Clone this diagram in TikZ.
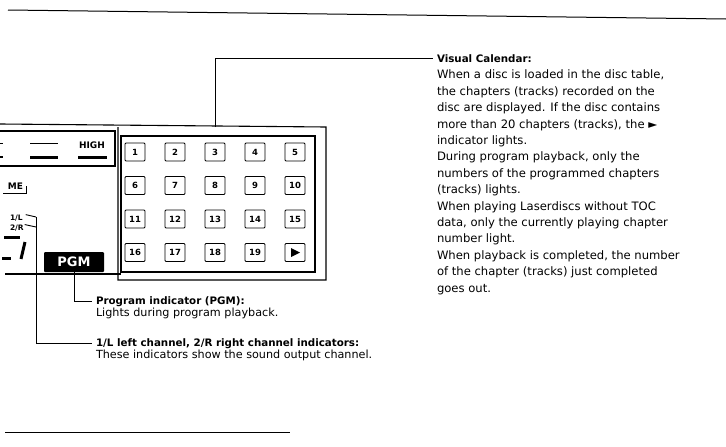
\documentclass[tikz,border=0pt]{standalone}
\usepackage{fontspec}
\setmainfont{DejaVu Sans}
\begin{document}
\begin{tikzpicture}[x=1pt,y=-1pt,
  every node/.style={inner sep=0pt, outer sep=0pt},
  frame/.style={line width=1.1pt},
  lead/.style={line width=0.9pt},
  cell/.style={draw, line width=0.9pt, minimum width=20pt, minimum height=18pt, rounded corners=1pt, font=\fontsize{8.5}{8.5}\selectfont\bfseries},
  title/.style={anchor=base west, font=\bfseries\fontsize{10.3}{14}\selectfont},
  desc/.style={anchor=north west, align=left, font=\fontsize{11.6}{16.4}\selectfont},
  small/.style={font=\bfseries\fontsize{9}{9}\selectfont},
  tiny/.style={font=\bfseries\fontsize{7.5}{7.5}\selectfont},
]
\useasboundingbox (0,0) rectangle (726,447);
% page rules
\draw[line width=1pt] (8,10) -- (726,19);
\draw[line width=1pt] (5,432) -- (290,432);
% panel frame
\draw[frame] (0,124) -- (326,127) -- (326,280) -- (118,280) -- (118,127);
\draw[frame] (121,136) rectangle (315,272);
\draw[frame] (5,274) -- (121,274);
\draw[frame] (0,131) -- (115,131) -- (115,166) -- (0,166);
% left box content
\node[small, anchor=base west] (high) at (79,148) {HIGH};
\draw[line width=1pt] (30,143) -- (58,143);
\draw[line width=3pt] (30,157) -- (58,157);
\draw[line width=3pt] (78,157) -- (107,157);
\draw[line width=1pt] (0,143) -- (3,143);
\draw[line width=2.5pt] (0,157) -- (3,157);
\node[small, anchor=base east] (me) at (23,189) {ME};
\draw[line width=0.9pt] (3,193) -- (26,193) -- (26,186);
\node[tiny, anchor=base west] (l1) at (10,220) {1/L};
\node[tiny, anchor=base west] (r2) at (10,230) {2/R};
\coordinate (lr) at (36,217);
\draw[lead] (l1.east) ++(3,-3) -- (lr);
\draw[lead] (r2.east) ++(1,-3) -- (36,227);
% segment digit fragment
\draw[line width=3pt] (4,237) -- (20,237);
\draw[line width=3pt] (25,242) -- (21,259);
\draw[line width=3pt] (2,258) -- (11,258);
% PGM
\node[fill=black, text=white, minimum width=60pt, minimum height=20pt, rounded corners=1pt, font=\bfseries\fontsize{13}{13}\selectfont] (pgm) at (74,262) {PGM};
% calendar cells
\foreach \lab [count=\i from 0] in {1,2,...,19}{
  \pgfmathtruncatemacro\col{mod(\i,5)}
  \pgfmathtruncatemacro\row{div(\i,5)}
  \node[cell] (c\lab) at (135+40*\col, 152+33.5*\row) {\lab};
}
\node[cell] (c20) at (295,252.5) {};
\fill (c20.center) ++(-4,-4.5) -- ++(9,4.5) -- ++(-9,4.5) -- cycle;
% descriptions
\node[title] (vc) at (437,62) {Visual Calendar:};
\node[desc] (vct) at (437,70) {When a disc is loaded in the disc table,\\
the chapters (tracks) recorded on the\\
disc are displayed. If the disc contains\\
more than 20 chapters (tracks), the ►\\
indicator lights.\\
During program playback, only the\\
numbers of the programmed chapters\\
(tracks) lights.\\
When playing Laserdiscs without TOC\\
data, only the currently playing chapter\\
number light.\\
When playback is completed, the number\\
of the chapter (tracks) just completed\\
goes out.};
\node[title] (pi) at (96,304) {Program indicator (PGM):};
\node[desc, font=\fontsize{11.2}{15}\selectfont] (pit) at (96,308) {Lights during program playback.};
\node[title] (lrt) at (96,346) {1/L left channel, 2/R right channel indicators:};
\node[desc, font=\fontsize{11.2}{15}\selectfont] (lrtt) at (96,350) {These indicators show the sound output channel.};
% leaders
\draw[lead] (c3 |- 0,127) -- (c3 |- vc.west) -- ([xshift=-4pt]vc.west);
\draw[lead] (pgm.south) |- ([xshift=-4pt]pi.west);
\draw[lead] (lr) |- ([xshift=-4pt]lrt.west);
\end{tikzpicture}
\end{document}
